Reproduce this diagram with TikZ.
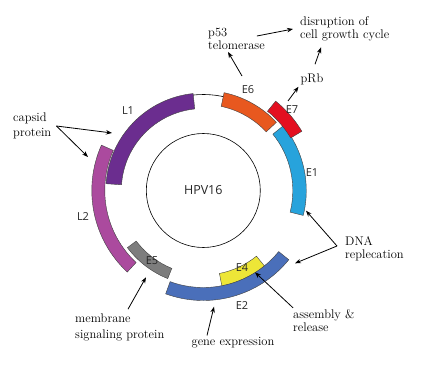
\documentclass[tikz,border=0pt]{standalone}
\usepackage{fontspec}
\newfontfamily\genesans{Open Sans}
\usetikzlibrary{arrows.meta,calc}

\definecolor{lonecol}{HTML}{6B2D8F}
\definecolor{ltwocol}{HTML}{AB4A9E}
\definecolor{esixcol}{HTML}{E8581F}
\definecolor{esevencol}{HTML}{E30F20}
\definecolor{eonecol}{HTML}{27A3DC}
\definecolor{etwocol}{HTML}{4A6FBA}
\definecolor{efourcol}{HTML}{EDE637}
\definecolor{efivecol}{HTML}{7D7D7D}

% colour, start angle, end angle, inner radius, outer radius
\newcommand\geneseg[5]{%
  \filldraw[seg, fill=#1] ($(c)+(#2:#4)$) arc[start angle=#2, end angle=#3, radius=#4]
    -- ($(c)+(#3:#5)$) arc[start angle=#3, end angle=#2, radius=#5] -- cycle;}

\begin{document}
\begin{tikzpicture}[x=1pt, y=1pt,
  seg/.style={draw=black!75, line width=0.4pt},
  gene/.style={font=\genesans\fontsize{11}{13}\selectfont, text=black!85},
  note/.style={font=\fontsize{12.5}{13}\selectfont, align=left, inner sep=2pt},
  arrow/.style={-{Stealth[length=6pt, width=4.5pt]}, line width=0.8pt}
]
\useasboundingbox (0,0) rectangle (426,368);
\coordinate (c) at (203.3,177.5);

% genome
\draw[line width=0.6pt] (c) circle[radius=57];
\draw[line width=0.6pt] ($(c)+(72:96)$) arc[start angle=72, end angle=100, radius=96];
\geneseg{lonecol}{96}{176}{82}{97.5}
\geneseg{ltwocol}{156}{227}{98.5}{111.5}
\geneseg{efivecol}{217}{248}{84}{95}
\geneseg{efourcol}{281}{309}{84.5}{97.5}
\geneseg{etwocol}{250}{321}{97}{110}
\geneseg{esixcol}{43}{78}{86}{100}
\geneseg{eonecol}{-14}{39}{89.5}{103}
\geneseg{esevencol}{31}{51}{102}{115}

% gene names
\node[gene, font=\genesans\fontsize{12.5}{14}\selectfont] (hpv) at (c) {HPV16};
\node[gene] (l1) at (128,257) {L1};
\node[gene] (l2) at (83,151) {L2};
\node[gene] (e1) at (312,195) {E1};
\node[gene] (e2) at (242,62) {E2};
\node[gene] (e4) at (242,100) {E4};
\node[gene] (e5) at (152,107) {E5};
\node[gene] (e6) at (248,278) {E6};
\node[gene] (e7) at (292,258) {E7};

% functions
\node[note, anchor=west] (p53) at (206,329) {p53\\telomerase};
\node[note, anchor=west] (disr) at (298,339) {disruption of\\cell growth cycle};
\node[note] (prb) at (312,289) {pRb};
\node[note, anchor=west, font=\fontsize{12.5}{15.5}\selectfont] (capsid) at (11,242) {capsid\\protein};
\node[note, anchor=west] (dna) at (343,119) {DNA\\replecation};
\node[note, anchor=west] (asm) at (291,47) {assembly \&\\release};
\node[note, anchor=west, font=\fontsize{12.5}{16}\selectfont] (memb) at (73,41) {membrane\\signaling protein};
\node[note] (expr) at (233,25) {gene expression};

% arrow ends on the genome
\coordinate (e6out) at (242,292);
\coordinate (e7out) at (288,267);
\coordinate (l1in) at (112,235);
\coordinate (l2in) at (88,211);
\coordinate (e1in) at (306,157.3);
\coordinate (e2in) at (295,104.7);
\coordinate (e4in) at (255,95.7);
\coordinate (e5in) at (146,90.7);
\coordinate (e2low) at (214,61.3);

\draw[arrow] (e6out) -- ([xshift=22pt]p53.south west);
\draw[arrow] ([xshift=-10pt, yshift=3pt]p53.east) -- ([xshift=-5pt]disr.west);
\draw[arrow] ([xshift=3pt, yshift=7pt]prb.north) -- ([xshift=23pt, yshift=-4pt]disr.south west);
\draw[arrow] (e7out) -- (prb.south west);
\draw[arrow] ([xshift=3pt]capsid.east) -- (l1in);
\draw[arrow] ([xshift=3pt]capsid.east) -- (l2in);
\draw[arrow] ([xshift=-6pt, yshift=3pt]dna.west) -- (e1in);
\draw[arrow] ([xshift=-6pt, yshift=3pt]dna.west) -- (e2in);
\draw[arrow] ([xshift=2pt]asm.north west) -- (e4in);
\draw[arrow] ([xshift=55pt, yshift=2pt]memb.north west) -- (e5in);
\draw[arrow] ([xshift=-26pt]expr.north) -- (e2low);
\end{tikzpicture}
\end{document}
